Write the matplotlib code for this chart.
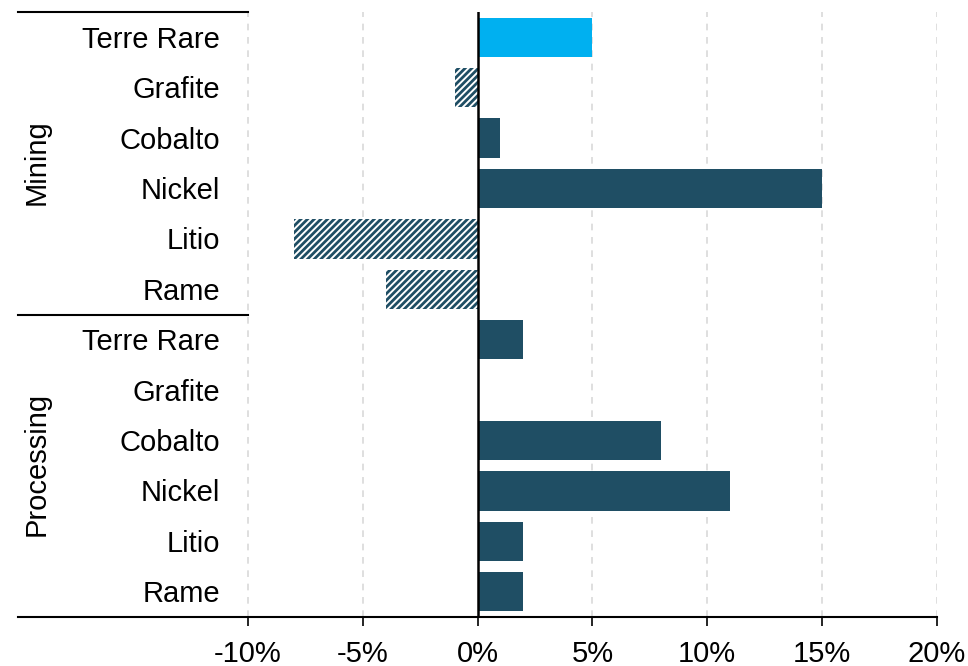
import matplotlib
matplotlib.use("Agg")
import matplotlib.pyplot as plt

plt.rcParams['font.family'] = ['Liberation Sans', 'DejaVu Sans']
plt.rcParams['hatch.linewidth'] = 2.0

groups = ["Mining", "Processing"]
materials = ["Terre Rare", "Grafite", "Cobalto", "Nickel", "Litio", "Rame"]
mining_values = [5, -1, 1, 15, -8, -4]
processing_values = [2, 0, 8, 11, 2, 2]
xticks = [-10, -5, 0, 5, 10, 15, 20]

dark = "#1F4E64"
light = "#00B0F0"
fs = 21

fig = plt.figure(figsize=(9.68, 6.66), dpi=100)
W, H = 968, 666
ax = fig.add_axes([18 / W, 1 - 617 / H, (937 - 18) / W, (617 - 12) / H])

ax.set_xlim(-20, 20)
n = len(materials) * 2
ax.set_ylim(n - 0.5, -0.5)

# vertical dashed grid
for t in xticks:
    if t != 0:
        ax.axvline(t, color="#D9D9D9", lw=1.2, ls=(0, (4, 4)), zorder=0)

rows = []
for g, vals in zip(groups, [mining_values, processing_values]):
    for m, v in zip(materials, vals):
        rows.append((g, m, v))

for i, (g, m, v) in enumerate(rows):
    if g == "Mining" and m == "Terre Rare":
        ax.barh(i, v, height=0.78, color=light, zorder=2)
    elif v < 0:
        ax.barh(i, v, height=0.78, facecolor="white", edgecolor=dark,
                hatch="/////", linewidth=0, zorder=2)
    else:
        ax.barh(i, v, height=0.78, color=dark, zorder=2)
    ax.text(-11.2, i + 0.05, m, ha="right", va="center", fontsize=fs)

# zero line
ax.axvline(0, color="black", lw=1.8, zorder=3)

# group separators and labels
for k, g in enumerate(groups):
    top = k * len(materials) - 0.5
    ax.plot([-20, -10], [top, top], color="black", lw=1.5, clip_on=False, zorder=3)
    mid = k * len(materials) + (len(materials) - 1) / 2
    ax.text(-19.18, mid - 0.03, g, rotation=90, ha="center", va="center", fontsize=fs)

for s in ["top", "right", "left"]:
    ax.spines[s].set_visible(False)
ax.spines["bottom"].set_linewidth(1.5)

ax.set_yticks([])
ax.set_xticks(xticks)
ax.set_xticklabels([f"{t}%" for t in xticks], fontsize=fs)
ax.tick_params(axis="x", length=6.5, width=1.2, pad=10)

fig.savefig("out.png", dpi=100)
